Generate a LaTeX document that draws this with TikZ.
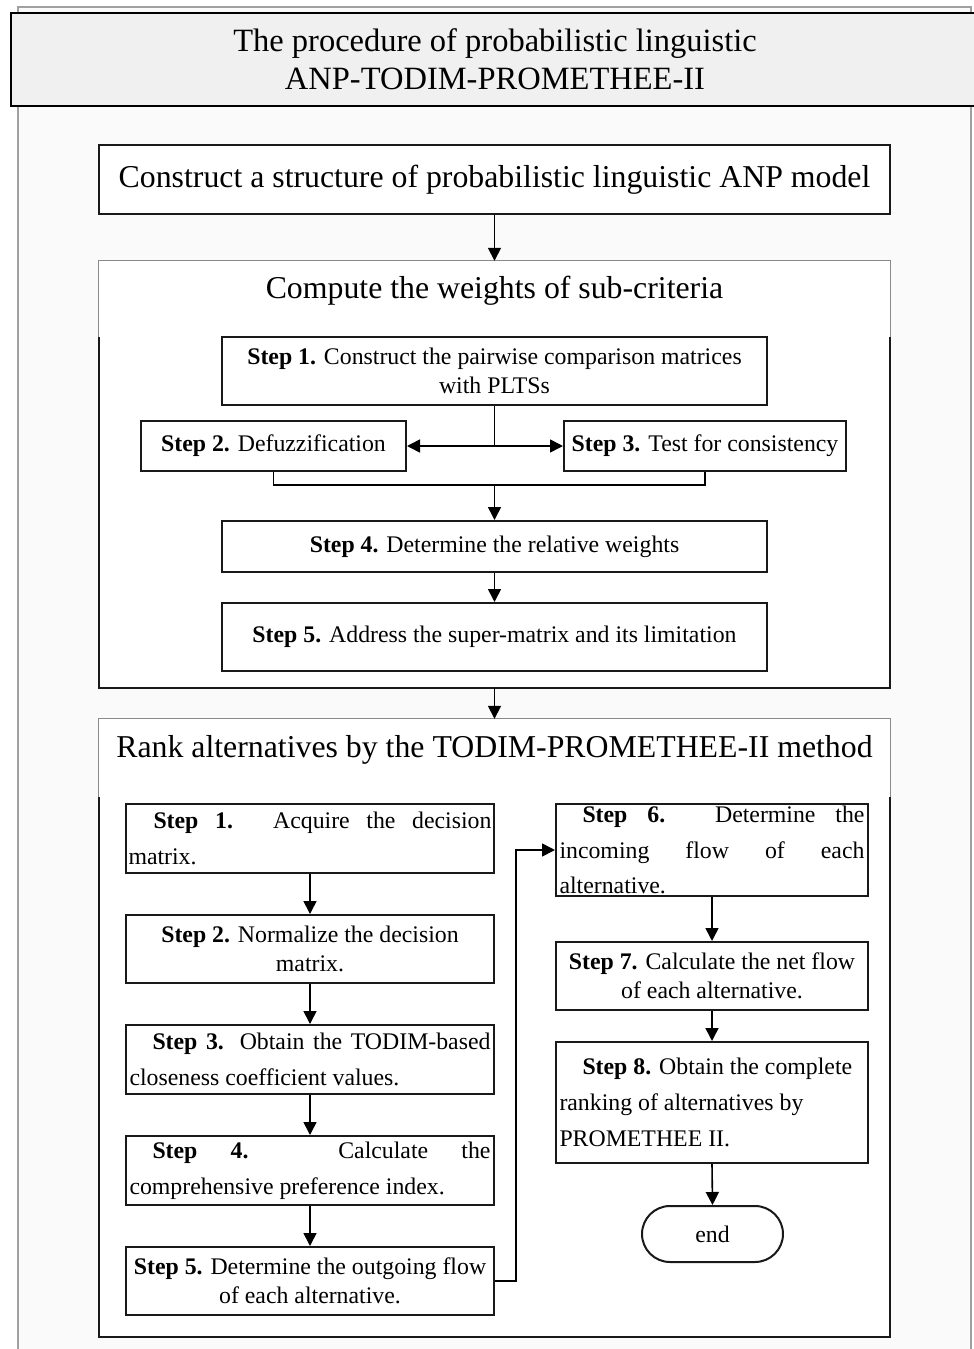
\documentclass[tikz,border=0pt]{standalone}
\usepackage{fontspec}
\setmainfont{Liberation Serif}
\usetikzlibrary{arrows.meta}
\newcommand\jline[2]{\makebox[#1][s]{#2}}
\newcommand\stp[1]{\textbf{Step #1.}}
\definecolor{framegray}{HTML}{A0A0A0}
\definecolor{pangray}{HTML}{8A8A8A}
\definecolor{bgpanel}{HTML}{FAFAFA}
\definecolor{titlefill}{HTML}{F0F0F0}
\begin{document}
\begin{tikzpicture}[x=1pt,y=-1pt,
  box/.style={draw=black!90, line width=2pt, fill=white, inner sep=0pt},
  arr/.style={line width=1.6pt, -{Triangle[length=13pt,width=13pt]}},
  ln/.style={line width=1.6pt},
  big/.style={font=\fontsize{31.8}{38}\selectfont},
  st/.style={font=\fontsize{23.8}{29}\selectfont},
  panel/.style={fill=white, inner sep=0pt}
]
\useasboundingbox (0,0) rectangle (974,1349);
% outer frame
\fill[bgpanel] (18,7) rectangle (971,1349);
\draw[framegray, line width=1.8pt] (18,1349) -- (18,7) -- (971,7) -- (971,1349);
% title bar
\draw[line width=2.2pt, fill=titlefill] (11,13) rectangle (990,106);
\node[align=center, font=\fontsize{32.5}{38}\selectfont] (title) at (495,59) {The procedure of probabilistic linguistic\\ANP-TODIM-PROMETHEE-II};

% construct box
\node[box, minimum width=791pt, minimum height=69pt, big] (A) at (494.5,179.5) {Construct a structure of probabilistic linguistic ANP model};

% panel B
\node[panel, minimum width=791pt, minimum height=427pt] (pB) at (494.5,474.5) {};
\draw[pangray, line width=1.3pt] (pB.west |- 0,337) -- (pB.north west) -- (pB.north east) -- (pB.east |- 0,337);
\draw[black!90, line width=2pt] (pB.west |- 0,337) -- (pB.south west) -- (pB.south east) -- (pB.east |- 0,337);
\node[big] (tB) at (494.5,291) {Compute the weights of sub-criteria};

\node[box, st, minimum width=545pt, minimum height=68pt, align=center] (S1) at (494.5,371) {\stp{1} Construct the pairwise comparison matrices\\with PLTSs};
\node[box, st, minimum width=265pt, minimum height=50pt] (S2) at (273.5,446) {\stp{2} Defuzzification};
\node[box, st, minimum width=282pt, minimum height=50pt] (S3) at (705,446) {\stp{3} Test for consistency};
\node[box, st, minimum width=545pt, minimum height=51pt] (S4) at (494.5,546.5) {\stp{4} Determine the relative weights};
\node[box, st, minimum width=545pt, minimum height=68pt] (S5) at (494.5,637) {\stp{5} Address the super-matrix and its limitation};

\coordinate (j1) at (494.5,446);
\coordinate (j2) at (494.5,485);
\draw[ln] (S1.south) -- (j1);
\draw[arr] (j1) -- (S2.east);
\draw[arr] (j1) -- (S3.west);
\draw[ln] (S2.south) |- (j2) -| (S3.south);
\draw[arr] (j2) -- (S4.north);
\draw[arr] (S4.south) -- (S5.north);
\draw[arr] (A.south) -- (pB.north);

% panel C
\node[panel, minimum width=791pt, minimum height=618pt] (pC) at (494.5,1028) {};
\draw[pangray, line width=1.3pt] (pC.west |- 0,797) -- (pC.north west) -- (pC.north east) -- (pC.east |- 0,797);
\draw[black!90, line width=2pt] (pC.west |- 0,797) -- (pC.south west) -- (pC.south east) -- (pC.east |- 0,797);
\node[big] (tC) at (494.5,750) {Rank alternatives by the TODIM-PROMETHEE-II method};
\draw[arr] (pB.south) -- (pC.north);

% left column
\node[box, st, minimum width=368pt, minimum height=69pt] (L1) at (310,838.5)
 {\parbox{363pt}{\fontsize{23.8}{36}\selectfont\jline{363pt}{\hspace{25pt}\stp{1} Acquire the decision}\\matrix.}};
\node[box, st, minimum width=368pt, minimum height=68pt, align=center] (L2) at (310,949)
 {\stp{2} Normalize the decision\\matrix.};
\node[box, st, minimum width=368pt, minimum height=69pt] (L3) at (310,1059.5)
 {\parbox{361pt}{\fontsize{23.8}{36}\selectfont\jline{361pt}{\hspace{23pt}\stp{3} Obtain the TODIM-based}\\closeness coefficient values.}};
\node[box, st, minimum width=368pt, minimum height=69pt] (L4) at (310,1170.5)
 {\parbox{361pt}{\fontsize{23.8}{36}\selectfont\jline{361pt}{\hspace{23pt}\stp{4} Calculate the}\\comprehensive preference index.}};
\node[box, st, minimum width=368pt, minimum height=68pt, align=center] (L5) at (310,1281)
 {\stp{5} Determine the outgoing flow\\of each alternative.};

\draw[arr] (L1.south) -- (L2.north);
\draw[arr] (L2.south) -- (L3.north);
\draw[arr] (L3.south) -- (L4.north);
\draw[arr] (L4.south) -- (L5.north);

% right column
\node[box, st, minimum width=312pt, minimum height=92pt] (R6) at (712,850)
 {\parbox{305pt}{\fontsize{23.8}{35.5}\selectfont\jline{305pt}{\hspace{23pt}\stp{6} Determine the}\\\jline{305pt}{incoming flow of each}\\alternative.}};
\node[box, st, minimum width=312pt, minimum height=68pt, align=center] (R7) at (712,976)
 {\stp{7} Calculate the net flow\\of each alternative.};
\node[box, st, minimum width=312pt, minimum height=121pt] (R8) at (712,1102.5)
 {\parbox{305pt}{\fontsize{23.8}{36}\selectfont\raggedright\hspace*{23pt}\stp{8} Obtain the complete\\ranking of alternatives by\\PROMETHEE II.}};
\node[draw=black!90, line width=2pt, fill=white, minimum width=141pt, minimum height=56pt, rounded corners=28pt, st] (end) at (712.5,1234) {end};

\draw[arr] (R6.south) -- (R7.north);
\draw[arr] (R7.south) -- (R8.north);
\draw[arr] (R8.south) -- (end.north);
\draw[arr] (L5.east) -- ++(21,0) |- (R6.west);
\end{tikzpicture}
\end{document}
